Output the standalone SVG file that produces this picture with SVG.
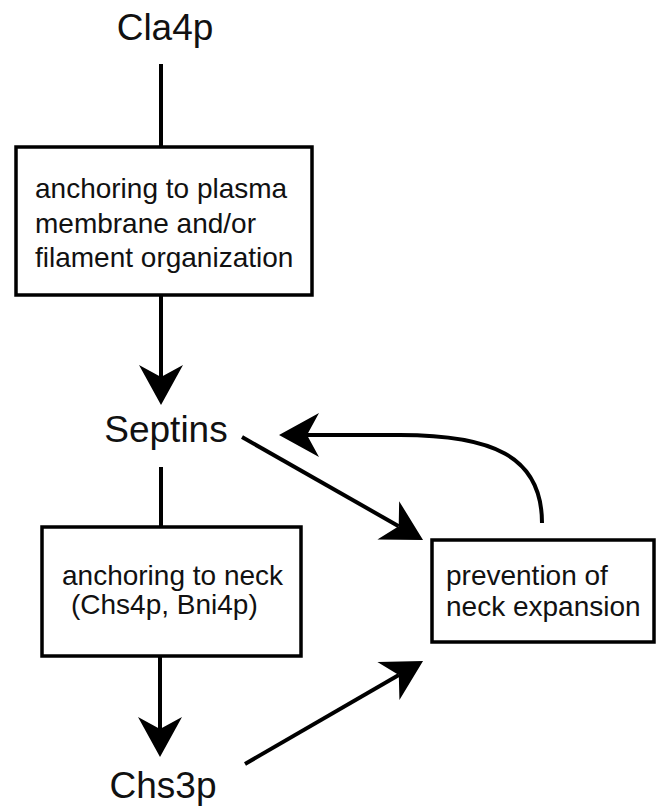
<svg xmlns="http://www.w3.org/2000/svg" width="656" height="806" viewBox="0 0 656 806">
<style>
.big{font-family:"Liberation Sans",Arial,Helvetica,sans-serif;font-size:37px;fill:#111}
.lbl{font-family:"Liberation Sans",Arial,Helvetica,sans-serif;font-size:28px;fill:#111}
.box{fill:#fff;stroke:#000;stroke-width:3.5}
.edge{fill:none;stroke:#000;stroke-width:4}
</style>
<defs>
<marker id="ah" markerUnits="userSpaceOnUse" markerWidth="50" markerHeight="50" refX="12" refY="0" viewBox="0 -25 45 50" orient="auto" overflow="visible">
<path d="M0,-22 L40,0 L0,22 L12,0 Z" fill="#000"/>
</marker>
</defs>
<rect width="656" height="806" fill="#fff"/>
<g id="connectors">
<line class="edge" x1="161" y1="64" x2="161" y2="147"/>
<line class="edge" x1="161" y1="295" x2="161" y2="377" marker-end="url(#ah)"/>
<line class="edge" x1="161" y1="467" x2="161" y2="528"/>
<line class="edge" x1="160" y1="656" x2="160" y2="729" marker-end="url(#ah)"/>
<line class="edge" x1="242" y1="437" x2="398.7" y2="526.2" marker-end="url(#ah)"/>
<line class="edge" x1="245" y1="764" x2="398.8" y2="675" marker-end="url(#ah)"/>
<path class="edge" d="M542,523 C542,455 490,435 400,435 L307,435" marker-end="url(#ah)"/>
</g>
<g id="cla4p"><text class="big" x="165" y="40" text-anchor="middle">Cla4p</text></g>
<g id="box-plasma">
<rect class="box" x="16" y="147" width="296" height="148"/>
<text class="lbl" x="35" y="198">anchoring to plasma</text>
<text class="lbl" x="35" y="233">membrane and/or</text>
<text class="lbl" x="35" y="267">filament organization</text>
</g>
<g id="septins"><text class="big" x="166" y="442" text-anchor="middle">Septins</text></g>
<g id="box-neck">
<rect class="box" x="42" y="527" width="259" height="129"/>
<text class="lbl" x="62" y="585">anchoring to neck</text>
<text class="lbl" x="71" y="614">(Chs4p, Bni4p)</text>
</g>
<g id="box-prevention">
<rect class="box" x="432" y="540" width="222" height="102"/>
<text class="lbl" x="446" y="585">prevention of</text>
<text class="lbl" x="446" y="616">neck expansion</text>
</g>
<g id="chs3p"><text class="big" x="163" y="798" text-anchor="middle">Chs3p</text></g>
</svg>
